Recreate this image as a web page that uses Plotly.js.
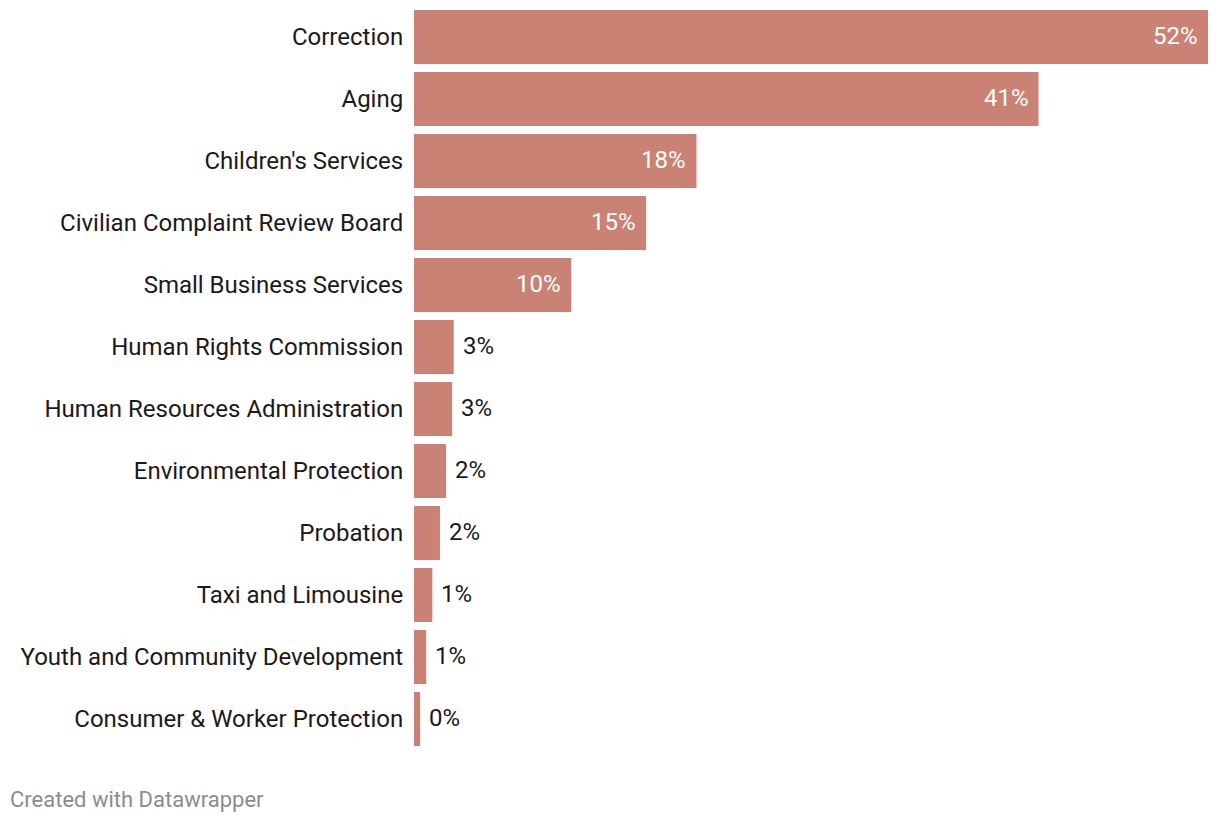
<!DOCTYPE html>
<html>
<head>
<meta charset="utf-8">
<script src="https://cdn.plot.ly/plotly-3.0.1.min.js"></script>
<style>html,body{margin:0;padding:0;background:#fff;}#chart{width:1220px;height:822px;}</style>
</head>
<body>
<div id="chart"></div>
<script>
const categories = [
  "Correction",
  "Aging",
  "Children's Services",
  "Civilian Complaint Review Board",
  "Small Business Services",
  "Human Rights Commission",
  "Human Resources Administration",
  "Environmental Protection",
  "Probation",
  "Taxi and Limousine",
  "Youth and Community Development",
  "Consumer & Worker Protection"
];
const values = [52, 40.9, 18.5, 15.2, 10.3, 2.6, 2.5, 2.1, 1.7, 1.2, 0.8, 0.4];
const valueLabels = ["52%", "41%", "18%", "15%", "10%", "3%", "3%", "2%", "2%", "1%", "1%", "0%"];

const barColor = "#c98273";
const insideThreshold = 8;

const annotations = categories.map((c, i) => {
  const inside = values[i] > insideThreshold;
  return {
    x: values[i], y: c, xref: "x", yref: "y",
    text: valueLabels[i], showarrow: false,
    xanchor: inside ? "right" : "left",
    xshift: inside ? -8 : 7,
    yshift: 1,
    font: {family: "Roboto, sans-serif", size: 24, color: inside ? "#ffffff" : "#1a1a1a"}
  };
});
annotations.push({
  xref: "paper", yref: "paper", x: -406/794, y: -0.047,
  xanchor: "left", yanchor: "top", showarrow: false,
  text: "Created with Datawrapper",
  font: {family: "Roboto, sans-serif", size: 22, color: "#8c8c8c"}
});

Plotly.newPlot("chart", [{
  type: "bar", orientation: "h",
  x: values, y: categories,
  marker: {color: barColor},
  hoverinfo: "none"
}], {
  width: 1220, height: 822,
  margin: {l: 414, r: 12, t: 6, b: 72},
  paper_bgcolor: "#fff", plot_bgcolor: "#fff",
  bargap: 0.129,
  showlegend: false,
  xaxis: {range: [0, 52], visible: false, fixedrange: true},
  yaxis: {
    autorange: "reversed", showgrid: false, zeroline: false, showline: false,
    ticks: "outside", ticklen: 5, tickcolor: "rgba(0,0,0,0)",
    tickfont: {family: "Roboto, sans-serif", size: 24, color: "#1a1a1a"},
    fixedrange: true
  },
  annotations: annotations
}, {displayModeBar: false, staticPlot: true});
</script>
</body>
</html>
